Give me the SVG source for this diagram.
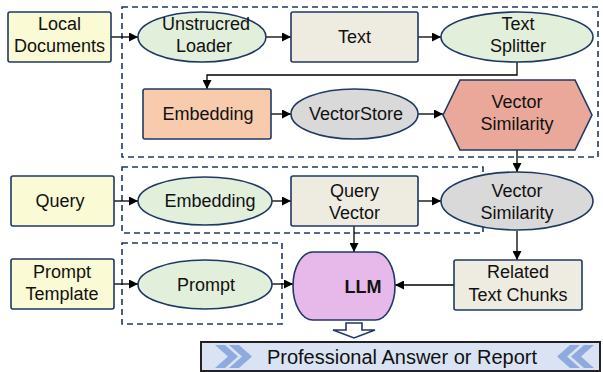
<svg xmlns="http://www.w3.org/2000/svg" width="603" height="372" viewBox="0 0 603 372">
<defs>
<marker id="ah" viewBox="0 0 10 10" refX="10" refY="5" markerWidth="10" markerHeight="9" markerUnits="userSpaceOnUse" orient="auto">
<path d="M0,0 L10,5 L0,10 Z" fill="#000"/>
</marker>
<style>
text{font-family:"Liberation Sans",Arial,sans-serif;font-size:18px;fill:#111;text-anchor:middle}
.n{stroke:#1f3864;stroke-width:1.6}
.y{fill:#fafad4}
.g{fill:#e2efda}
.t{fill:#eeece1}
.gr{fill:#d9d9d9}
.d{fill:none;stroke:#1f3864;stroke-width:1.6;stroke-dasharray:6,4}
.c{fill:none;stroke:#000;stroke-width:1.3;marker-end:url(#ah)}
.ch{fill:#8faadc}
</style>
</defs>
<g id="groups">
<rect class="d" x="122" y="7" width="476" height="150"/>
<rect class="d" x="122" y="167" width="361" height="66"/>
<rect class="d" x="122" y="243" width="160" height="81"/>
</g>
<g id="connectors">
<path class="c" d="M111,37 H138"/>
<path class="c" d="M266,37 H291"/>
<path class="c" d="M418,37 H441"/>
<path class="c" d="M517,62 V75 H207 V89"/>
<path class="c" d="M271,114 H291"/>
<path class="c" d="M418,114 H443"/>
<path class="c" d="M517,150 V172"/>
<path class="c" d="M114,201 H138"/>
<path class="c" d="M272,201 H291"/>
<path class="c" d="M418,201 H441"/>
<path class="c" d="M517,231 V260"/>
<path class="c" d="M354,226 V252"/>
<path class="c" d="M454,285 H395"/>
<path class="c" d="M114,284 H138"/>
<path class="c" d="M272,284 H293"/>
</g>
<g id="local-documents">
<rect class="n y" x="8" y="12" width="103" height="50" rx="2"/>
<text x="59.5" y="30">Local</text><text x="59.5" y="52">Documents</text>
</g>
<g id="unstrucred-loader">
<ellipse class="n g" cx="202" cy="37" rx="64" ry="25"/>
<text x="206" y="30">Unstrucred</text><text x="204" y="52">Loader</text>
</g>
<g id="text">
<rect class="n t" x="291" y="12" width="127" height="50" rx="2"/>
<text x="354.5" y="43">Text</text>
</g>
<g id="text-splitter">
<ellipse class="n g" cx="517" cy="37" rx="76" ry="25"/>
<text x="518" y="30">Text</text><text x="518" y="52">Splitter</text>
</g>
<g id="embedding-1">
<rect class="n" fill="#f8cbad" x="143" y="89" width="128" height="50" rx="2"/>
<text x="208" y="120">Embedding</text>
</g>
<g id="vectorstore">
<ellipse class="n gr" cx="354.5" cy="114" rx="63.5" ry="25"/>
<text x="356" y="120">VectorStore</text>
</g>
<g id="vector-similarity-1">
<polygon class="n" fill="#e9a899" points="443,115 460,80 575,80 592,115 575,150 460,150"/>
<text x="517" y="108">Vector</text><text x="517" y="130">Similarity</text>
</g>
<g id="query">
<rect class="n y" x="11" y="176" width="103" height="50" rx="2"/>
<text x="60" y="207">Query</text>
</g>
<g id="embedding-2">
<ellipse class="n g" cx="205" cy="201" rx="67" ry="24"/>
<text x="210" y="207">Embedding</text>
</g>
<g id="query-vector">
<rect class="n t" x="291" y="176" width="127" height="50" rx="2"/>
<text x="354.5" y="197">Query</text><text x="354.5" y="219">Vector</text>
</g>
<g id="vector-similarity-2">
<ellipse class="n gr" cx="517" cy="201" rx="76" ry="29"/>
<text x="517" y="197">Vector</text><text x="517" y="219">Similarity</text>
</g>
<g id="prompt-template">
<rect class="n y" x="11" y="259" width="103" height="50" rx="2"/>
<text x="62" y="278">Prompt</text><text x="62" y="300">Template</text>
</g>
<g id="prompt">
<ellipse class="n g" cx="205" cy="284.5" rx="67" ry="24.5"/>
<text x="206" y="291">Prompt</text>
</g>
<g id="llm">
<path class="n" fill="#e6b9ea" d="M313,252 H375 A20,34 0 0 1 375,320 H313 A20,34 0 0 1 313,252 Z"/>
<text x="363" y="293" style="font-weight:bold">LLM</text>
</g>
<g id="related-text-chunks">
<rect class="n t" x="454" y="260" width="128" height="50" rx="2"/>
<text x="518" y="278">Related</text><text x="518" y="301">Text Chunks</text>
</g>
<g id="output-arrow">
<path class="n" fill="#fff" d="M346,323 H362 V330 H375 L354,338 L333,330 H346 Z"/>
</g>
<g id="answer">
<rect x="201" y="342" width="399" height="29" fill="#dae3f3" stroke="#222" stroke-width="2"/>
<polygon class="ch" points="215,345 225,345 238,356.5 225,368 215,368 228,356.5"/>
<polygon class="ch" points="229,345 239,345 252,356.5 239,368 229,368 242,356.5"/>
<polygon class="ch" points="580,345 570,345 557,356.5 570,368 580,368 567,356.5"/>
<polygon class="ch" points="594,345 584,345 571,356.5 584,368 594,368 581,356.5"/>
<text x="402" y="364" style="font-size:20px">Professional Answer or Report</text>
</g>
</svg>
